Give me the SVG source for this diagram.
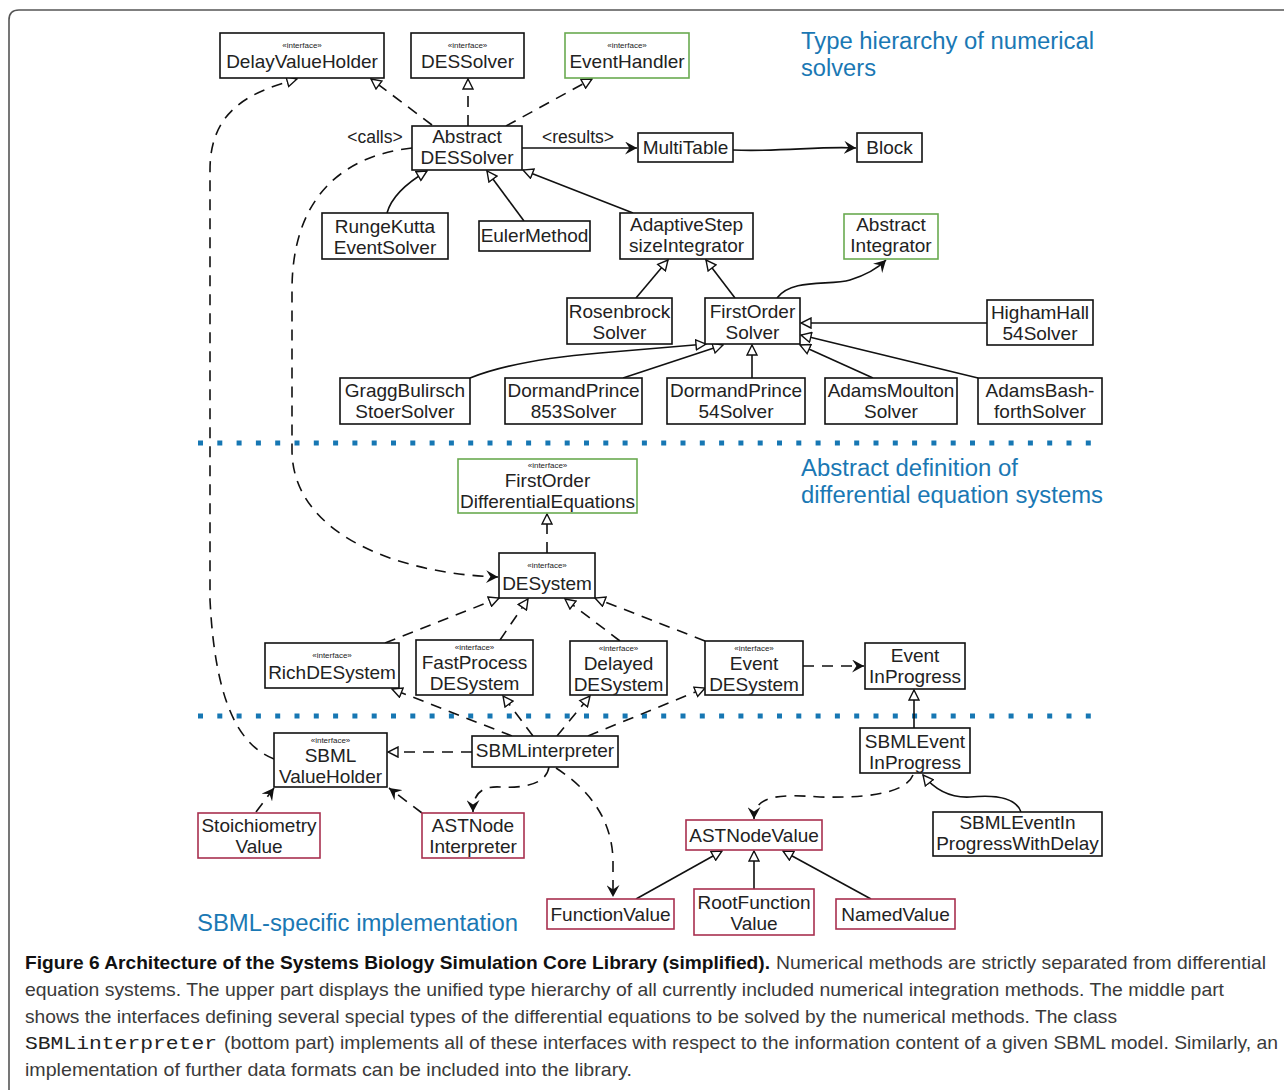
<svg xmlns="http://www.w3.org/2000/svg" width="1284" height="1090" viewBox="0 0 1284 1090">
<defs>
<style>
.n rect{fill:#fff;stroke:#111;stroke-width:1.6}
.g rect{stroke:#6aaa50}
.r rect{stroke:#a8304f}
text{font-family:"Liberation Sans",Arial,sans-serif;fill:#222}
.t{font-size:19px;text-anchor:middle}
.s{font-size:8px;text-anchor:middle}
.lbl{font-size:17.5px;text-anchor:middle}
.sec{font-size:23px;fill:#1a78b4}
.c path,.c line{fill:none;stroke:#111;stroke-width:1.6}
.d{stroke-dasharray:11 8}
.dot{stroke:#1677b3;stroke-width:5;stroke-dasharray:5 14.3}
.cap{font-size:19px;fill:#3a3a3a}
</style>
<marker id="tri" viewBox="0 0 12 12" refX="11" refY="6" markerWidth="12" markerHeight="12" markerUnits="userSpaceOnUse" orient="auto">
<path d="M1,1 L11,6 L1,11 z" fill="#fff" stroke="#111" stroke-width="1.4"/>
</marker>
<marker id="arr" viewBox="0 0 12 12" refX="11" refY="6" markerWidth="13" markerHeight="13" markerUnits="userSpaceOnUse" orient="auto">
<path d="M0,0 L11,6 L0,12 L4,6 z" fill="#111"/>
</marker>
</defs>
<rect x="0" y="0" width="1284" height="1090" fill="#fff"/>
<path d="M9,1095 L9,20 Q9,10 19,10 L1295,10" fill="none" stroke="#555" stroke-width="1.6"/>

<text class="sec" x="801" y="49" textLength="293" lengthAdjust="spacingAndGlyphs">Type hierarchy of numerical</text>
<text class="sec" x="801" y="76" textLength="75" lengthAdjust="spacingAndGlyphs">solvers</text>
<text class="sec" x="801" y="476" textLength="217" lengthAdjust="spacingAndGlyphs">Abstract definition of</text>
<text class="sec" x="801" y="503" textLength="302" lengthAdjust="spacingAndGlyphs">differential equation systems</text>
<text class="sec" x="197" y="931" textLength="321" lengthAdjust="spacingAndGlyphs">SBML-specific implementation</text>
<line class="dot" x1="198" y1="443" x2="1100" y2="443"/>
<line class="dot" x1="198" y1="716" x2="1100" y2="716"/>

<g class="c" id="connectors">
<line class="d" x1="432" y1="125" x2="371" y2="79" marker-end="url(#tri)"/>
<line class="d" x1="468" y1="126" x2="468" y2="79" marker-end="url(#tri)"/>
<line class="d" x1="506" y1="126" x2="592" y2="79" marker-end="url(#tri)"/>
<line x1="522" y1="148" x2="637" y2="148" marker-end="url(#arr)"/>
<path d="M733,150 C780,152 820,146 856,148" marker-end="url(#arr)"/>
<path class="d" d="M412,148 C340,156 292,200 292,290 L292,450 C292,535 400,574 498,577" marker-end="url(#arr)"/>
<path class="d" d="M274,759 C238,745 215,700 210,600 L210,170 C210,110 250,92 297,79" marker-end="url(#tri)"/>
<path d="M387,213 C392,195 410,181 427,171" marker-end="url(#tri)"/>
<line x1="524" y1="221" x2="487" y2="171" marker-end="url(#tri)"/>
<line x1="633" y1="213" x2="523" y2="170" marker-end="url(#tri)"/>
<line x1="636" y1="298" x2="668" y2="260" marker-end="url(#tri)"/>
<line x1="735" y1="298" x2="706" y2="260" marker-end="url(#tri)"/>
<path d="M777,298 C792,278 830,286 850,280 C866,275 878,268 886,260" marker-end="url(#arr)"/>
<line x1="987" y1="323" x2="801" y2="323" marker-end="url(#tri)"/>
<line x1="978" y1="378" x2="801" y2="335" marker-end="url(#tri)"/>
<line x1="873" y1="378" x2="800" y2="345" marker-end="url(#tri)"/>
<line x1="752" y1="378" x2="752" y2="345" marker-end="url(#tri)"/>
<line x1="623" y1="378" x2="723" y2="345" marker-end="url(#tri)"/>
<path d="M470,378 C500,366 540,358 600,353 L706,344" marker-end="url(#tri)"/>
<line class="d" x1="547" y1="553" x2="547" y2="514" marker-end="url(#tri)"/>
<line class="d" x1="385" y1="643" x2="499" y2="598" marker-end="url(#tri)"/>
<line class="d" x1="500" y1="640" x2="528" y2="599" marker-end="url(#tri)"/>
<line class="d" x1="620" y1="641" x2="565" y2="599" marker-end="url(#tri)"/>
<line class="d" x1="705" y1="641" x2="595" y2="598" marker-end="url(#tri)"/>
<line class="d" x1="803" y1="666" x2="864" y2="666" marker-end="url(#arr)"/>
<line x1="914" y1="728" x2="914" y2="690" marker-end="url(#tri)"/>
<line class="d" x1="512" y1="736" x2="392" y2="689" marker-end="url(#tri)"/>
<line class="d" x1="533" y1="736" x2="503" y2="696" marker-end="url(#tri)"/>
<line class="d" x1="557" y1="736" x2="590" y2="696" marker-end="url(#tri)"/>
<line class="d" x1="588" y1="736" x2="705" y2="688" marker-end="url(#tri)"/>
<line class="d" x1="472" y1="752" x2="388" y2="752" marker-end="url(#tri)"/>
<line class="d" x1="256" y1="812" x2="274" y2="788" marker-end="url(#arr)"/>
<line class="d" x1="422" y1="813" x2="389" y2="788" marker-end="url(#arr)"/>
<path class="d" d="M549,767 C546,786 520,788 500,787 C480,786 473,795 473,812" marker-end="url(#arr)"/>
<path class="d" d="M556,768 C590,790 612,820 613,860 L613,897" marker-end="url(#arr)"/>
<path class="d" d="M913,775 C905,795 860,798 820,797 C780,794 754,795 754,819" marker-end="url(#arr)"/>
<path d="M1021,812 C1015,795 990,795 970,797 C950,798 935,790 923,775" marker-end="url(#tri)"/>
<line x1="636" y1="899" x2="722" y2="851" marker-end="url(#tri)"/>
<line x1="754" y1="889" x2="754" y2="851" marker-end="url(#tri)"/>
<line x1="871" y1="899" x2="783" y2="851" marker-end="url(#tri)"/>
</g>
<text class="lbl" x="375" y="143">&lt;calls&gt;</text>
<text class="lbl" x="578" y="143">&lt;results&gt;</text>

<g class="n" id="DelayValueHolder"><rect x="220" y="33" width="164" height="45"/><text class="s" x="302" y="48">«interface»</text><text class="t" x="302" y="68">DelayValueHolder</text></g>
<g class="n" id="DESSolver"><rect x="411" y="33" width="113" height="45"/><text class="s" x="467.5" y="48">«interface»</text><text class="t" x="467.5" y="68">DESSolver</text></g>
<g class="n g" id="EventHandler"><rect x="565" y="33" width="124" height="45"/><text class="s" x="627" y="48">«interface»</text><text class="t" x="627" y="68">EventHandler</text></g>
<g class="n" id="AbstractDESSolver"><rect x="412" y="126" width="110" height="44"/><text class="t" x="467" y="143">Abstract</text><text class="t" x="467" y="164">DESSolver</text></g>
<g class="n" id="MultiTable"><rect x="638" y="133" width="95" height="29"/><text class="t" x="685.5" y="154">MultiTable</text></g>
<g class="n" id="Block"><rect x="857" y="133" width="65" height="29"/><text class="t" x="889.5" y="154">Block</text></g>
<g class="n" id="RungeKuttaEventSolver"><rect x="322" y="213" width="126" height="46"/><text class="t" x="385" y="233">RungeKutta</text><text class="t" x="385" y="254">EventSolver</text></g>
<g class="n" id="EulerMethod"><rect x="479" y="221" width="111" height="30"/><text class="t" x="534.5" y="242">EulerMethod</text></g>
<g class="n" id="AdaptiveStepsizeIntegrator"><rect x="620" y="213" width="133" height="46"/><text class="t" x="686.5" y="231">AdaptiveStep</text><text class="t" x="686.5" y="252">sizeIntegrator</text></g>
<g class="n g" id="AbstractIntegrator"><rect x="844" y="214" width="94" height="45"/><text class="t" x="891" y="231">Abstract</text><text class="t" x="891" y="252">Integrator</text></g>
<g class="n" id="RosenbrockSolver"><rect x="567" y="298" width="105" height="46"/><text class="t" x="619.5" y="318">Rosenbrock</text><text class="t" x="619.5" y="339">Solver</text></g>
<g class="n" id="FirstOrderSolver"><rect x="705" y="298" width="95" height="46"/><text class="t" x="752.5" y="318">FirstOrder</text><text class="t" x="752.5" y="339">Solver</text></g>
<g class="n" id="HighamHall54Solver"><rect x="987" y="300" width="106" height="45"/><text class="t" x="1040" y="319">HighamHall</text><text class="t" x="1040" y="340">54Solver</text></g>
<g class="n" id="GraggBulirschStoerSolver"><rect x="340" y="378" width="130" height="46"/><text class="t" x="405" y="397">GraggBulirsch</text><text class="t" x="405" y="418">StoerSolver</text></g>
<g class="n" id="DormandPrince853Solver"><rect x="505" y="378" width="137" height="46"/><text class="t" x="573.5" y="397">DormandPrince</text><text class="t" x="573.5" y="418">853Solver</text></g>
<g class="n" id="DormandPrince54Solver"><rect x="667" y="378" width="138" height="46"/><text class="t" x="736" y="397">DormandPrince</text><text class="t" x="736" y="418">54Solver</text></g>
<g class="n" id="AdamsMoultonSolver"><rect x="825" y="378" width="132" height="46"/><text class="t" x="891" y="397">AdamsMoulton</text><text class="t" x="891" y="418">Solver</text></g>
<g class="n" id="AdamsBashforthSolver"><rect x="978" y="378" width="124" height="46"/><text class="t" x="1040" y="397">AdamsBash-</text><text class="t" x="1040" y="418">forthSolver</text></g>

<g class="n g" id="FirstOrderDifferentialEquations"><rect x="458" y="459" width="179" height="54"/><text class="s" x="547.5" y="468">«interface»</text><text class="t" x="547.5" y="487">FirstOrder</text><text class="t" x="547.5" y="508">DifferentialEquations</text></g>
<g class="n" id="DESystem"><rect x="499" y="553" width="96" height="45"/><text class="s" x="547" y="568">«interface»</text><text class="t" x="547" y="590">DESystem</text></g>
<g class="n" id="RichDESystem"><rect x="265" y="643" width="134" height="45"/><text class="s" x="332" y="658">«interface»</text><text class="t" x="332" y="679">RichDESystem</text></g>
<g class="n" id="FastProcessDESystem"><rect x="416" y="640" width="117" height="55"/><text class="s" x="474.5" y="650">«interface»</text><text class="t" x="474.5" y="669">FastProcess</text><text class="t" x="474.5" y="690">DESystem</text></g>
<g class="n" id="DelayedDESystem"><rect x="570" y="641" width="97" height="54"/><text class="s" x="618.5" y="651">«interface»</text><text class="t" x="618.5" y="670">Delayed</text><text class="t" x="618.5" y="691">DESystem</text></g>
<g class="n" id="EventDESystem"><rect x="705" y="641" width="98" height="54"/><text class="s" x="754" y="651">«interface»</text><text class="t" x="754" y="670">Event</text><text class="t" x="754" y="691">DESystem</text></g>
<g class="n" id="EventInProgress"><rect x="865" y="643" width="100" height="46"/><text class="t" x="915" y="662">Event</text><text class="t" x="915" y="683">InProgress</text></g>

<g class="n" id="SBMLinterpreter"><rect x="472" y="736" width="146" height="31"/><text class="t" x="545" y="757">SBMLinterpreter</text></g>
<g class="n" id="SBMLValueHolder"><rect x="274" y="733" width="113" height="54"/><text class="s" x="330.5" y="743">«interface»</text><text class="t" x="330.5" y="762">SBML</text><text class="t" x="330.5" y="783">ValueHolder</text></g>
<g class="n r" id="StoichiometryValue"><rect x="198" y="813" width="122" height="45"/><text class="t" x="259" y="832">Stoichiometry</text><text class="t" x="259" y="853">Value</text></g>
<g class="n r" id="ASTNodeInterpreter"><rect x="422" y="813" width="102" height="45"/><text class="t" x="473" y="832">ASTNode</text><text class="t" x="473" y="853">Interpreter</text></g>
<g class="n" id="SBMLEventInProgress"><rect x="860" y="728" width="110" height="45"/><text class="t" x="915" y="748">SBMLEvent</text><text class="t" x="915" y="769">InProgress</text></g>
<g class="n" id="SBMLEventInProgressWithDelay"><rect x="933" y="812" width="169" height="44"/><text class="t" x="1017.5" y="829">SBMLEventIn</text><text class="t" x="1017.5" y="850">ProgressWithDelay</text></g>
<g class="n r" id="ASTNodeValue"><rect x="686" y="820" width="136" height="30"/><text class="t" x="754" y="842">ASTNodeValue</text></g>
<g class="n r" id="FunctionValue"><rect x="547" y="899" width="127" height="30"/><text class="t" x="610.5" y="921">FunctionValue</text></g>
<g class="n r" id="RootFunctionValue"><rect x="694" y="889" width="120" height="46"/><text class="t" x="754" y="909">RootFunction</text><text class="t" x="754" y="930">Value</text></g>
<g class="n r" id="NamedValue"><rect x="836" y="899" width="119" height="30"/><text class="t" x="895.5" y="921">NamedValue</text></g>

<g id="caption">
<text class="cap" x="25" y="969" textLength="745" lengthAdjust="spacingAndGlyphs" style="font-weight:bold;fill:#111">Figure 6 Architecture of the Systems Biology Simulation Core Library (simplified).</text>
<text class="cap" x="776" y="969" textLength="490" lengthAdjust="spacingAndGlyphs">Numerical methods are strictly separated from differential</text>
<text class="cap" x="25" y="996" textLength="1199" lengthAdjust="spacingAndGlyphs">equation systems. The upper part displays the unified type hierarchy of all currently included numerical integration methods. The middle part</text>
<text class="cap" x="25" y="1023" textLength="1092" lengthAdjust="spacingAndGlyphs">shows the interfaces defining several special types of the differential equations to be solved by the numerical methods. The class</text>
<text class="cap" x="25" y="1049" textLength="192" lengthAdjust="spacingAndGlyphs" style="font-family:'Liberation Mono',monospace;fill:#222">SBMLinterpreter</text>
<text class="cap" x="224" y="1049" textLength="1054" lengthAdjust="spacingAndGlyphs">(bottom part) implements all of these interfaces with respect to the information content of a given SBML model. Similarly, an</text>
<text class="cap" x="25" y="1076" textLength="607" lengthAdjust="spacingAndGlyphs">implementation of further data formats can be included into the library.</text>
</g>
</svg>
